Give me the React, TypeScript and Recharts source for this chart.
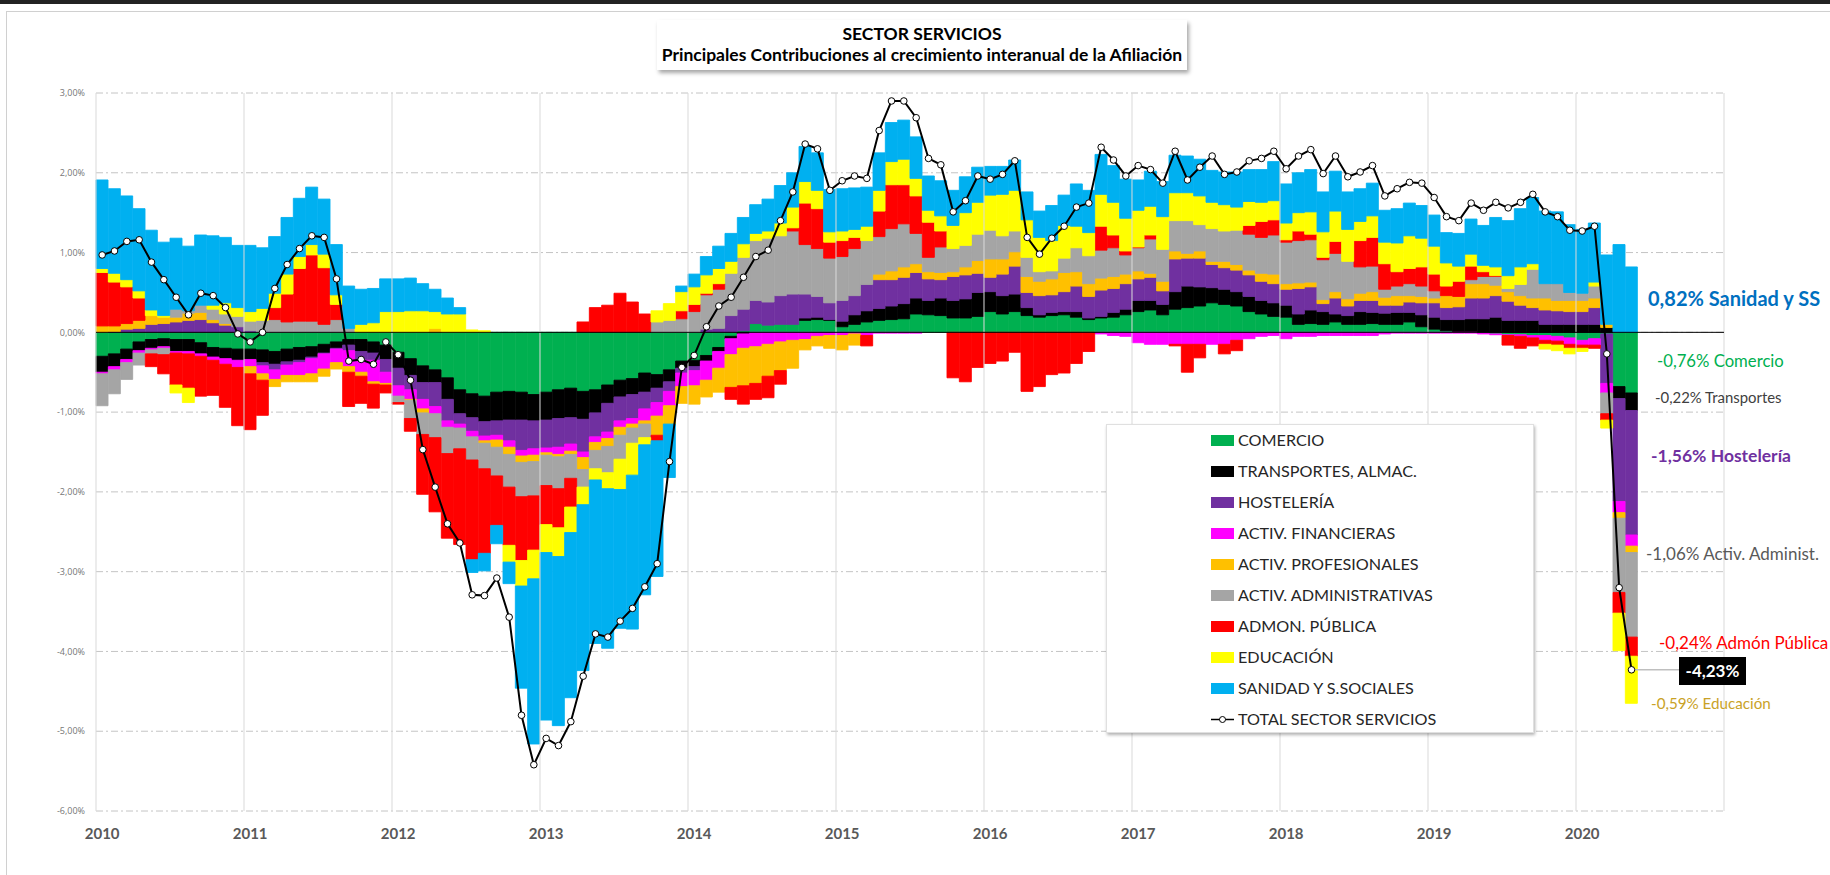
import React from "react";
import { ComposedChart, Bar, Line, XAxis, YAxis, CartesianGrid, ReferenceLine } from "recharts";

const years = ["2010", "2011", "2012", "2013", "2014", "2015", "2016", "2017", "2018", "2019", "2020"];

const comercio = [
  -0.30, -0.27, -0.21, -0.12, -0.09, -0.08, -0.09, -0.09, -0.13, -0.19, -0.20, -0.21,
  -0.21, -0.22, -0.24, -0.21, -0.19, -0.18, -0.15, -0.12, -0.09, -0.09, -0.12, -0.16,
  -0.25, -0.33, -0.42, -0.47, -0.57, -0.72, -0.77, -0.80, -0.75, -0.74, -0.75, -0.78,
  -0.75, -0.72, -0.70, -0.74, -0.72, -0.66, -0.60, -0.58, -0.51, -0.53, -0.47, -0.36,
  -0.35, -0.29, -0.19, -0.05, 0.02, 0.11, 0.09, 0.10, 0.10, 0.15, 0.16, 0.15,
  0.07, 0.10, 0.13, 0.15, 0.16, 0.17, 0.23, 0.22, 0.21, 0.18, 0.18, 0.20,
  0.26, 0.23, 0.26, 0.21, 0.19, 0.21, 0.22, 0.19, 0.16, 0.18, 0.19, 0.22,
  0.26, 0.28, 0.22, 0.29, 0.31, 0.33, 0.37, 0.35, 0.33, 0.26, 0.23, 0.20,
  0.19, 0.10, 0.11, 0.10, 0.13, 0.10, 0.10, 0.11, 0.10, 0.10, 0.13, 0.07,
  0.04, 0.02, 0.00, 0.00, -0.01, -0.02, -0.03, -0.03, -0.04, -0.04, -0.05, -0.07,
  -0.10, -0.08, -0.02, -0.68, -0.76,
];

const transportes = [
  -0.20, -0.16, -0.13, -0.11, -0.11, -0.10, -0.15, -0.15, -0.14, -0.12, -0.13, -0.14,
  -0.13, -0.16, -0.16, -0.16, -0.16, -0.13, -0.11, -0.08, -0.07, -0.15, -0.14, -0.18,
  -0.20, -0.21, -0.21, -0.16, -0.27, -0.30, -0.30, -0.32, -0.36, -0.36, -0.35, -0.33,
  -0.35, -0.36, -0.37, -0.35, -0.29, -0.23, -0.21, -0.20, -0.24, -0.17, -0.15, -0.09,
  -0.08, -0.07, -0.05, -0.03, -0.02, 0.00, 0.00, 0.00, 0.00, 0.03, 0.03, 0.01,
  0.07, 0.12, 0.14, 0.15, 0.17, 0.19, 0.20, 0.18, 0.22, 0.22, 0.24, 0.30,
  0.25, 0.23, 0.22, 0.10, 0.03, 0.04, 0.04, 0.07, 0.02, 0.02, 0.06, 0.07,
  0.14, 0.12, 0.13, 0.22, 0.27, 0.24, 0.19, 0.19, 0.18, 0.19, 0.17, 0.17,
  0.15, 0.13, 0.17, 0.16, 0.10, 0.11, 0.16, 0.14, 0.14, 0.15, 0.12, 0.15,
  0.15, 0.14, 0.16, 0.17, 0.17, 0.19, 0.15, 0.15, 0.15, 0.10, 0.10, 0.10,
  0.10, 0.10, 0.06, -0.15, -0.22,
];

const hosteleria = [
  0.00, 0.01, 0.04, 0.05, 0.10, 0.11, 0.13, 0.15, 0.16, 0.12, 0.09, 0.07,
  0.02, -0.04, -0.07, -0.04, -0.03, -0.02, -0.01, -0.01, -0.07, -0.11, -0.09, -0.16,
  -0.22, -0.18, -0.21, -0.30, -0.27, -0.13, -0.17, -0.18, -0.18, -0.26, -0.38, -0.35,
  -0.35, -0.36, -0.33, -0.41, -0.30, -0.36, -0.30, -0.30, -0.21, -0.18, -0.12, -0.06,
  -0.05, 0.04, 0.05, 0.21, 0.27, 0.29, 0.29, 0.36, 0.38, 0.30, 0.26, 0.21,
  0.26, 0.24, 0.33, 0.36, 0.33, 0.33, 0.32, 0.27, 0.23, 0.30, 0.30, 0.24,
  0.18, 0.27, 0.35, 0.19, 0.24, 0.22, 0.25, 0.32, 0.27, 0.33, 0.30, 0.32,
  0.27, 0.29, 0.17, 0.41, 0.35, 0.36, 0.29, 0.27, 0.27, 0.27, 0.24, 0.24,
  0.20, 0.32, 0.29, 0.10, 0.20, 0.12, 0.14, 0.15, 0.10, 0.09, 0.13, 0.15,
  0.18, 0.15, 0.16, 0.26, 0.26, 0.27, 0.24, 0.19, 0.16, 0.18, 0.17, 0.16,
  0.16, 0.21, -0.62, -1.29, -1.56,
];

const financieras = [
  -0.02, -0.04, -0.04, -0.03, -0.02, -0.02, -0.02, -0.03, -0.03, -0.04, -0.07, -0.09,
  -0.09, -0.10, -0.12, -0.13, -0.16, -0.19, -0.19, -0.17, -0.20, -0.15, -0.27, -0.14,
  -0.13, -0.12, -0.12, -0.09, -0.08, -0.05, -0.07, -0.06, -0.06, -0.08, -0.07, -0.08,
  -0.06, -0.09, -0.09, -0.07, -0.07, -0.08, -0.08, -0.07, -0.15, -0.17, -0.18, -0.17,
  -0.19, -0.24, -0.21, -0.20, -0.18, -0.18, -0.15, -0.12, -0.10, -0.09, -0.05, -0.04,
  -0.04, -0.02, -0.04, -0.01, -0.01, -0.01, -0.01, 0.00, 0.00, 0.00, 0.00, 0.00,
  0.00, 0.00, 0.00, 0.00, 0.00, 0.00, 0.00, 0.00, 0.00, -0.02, -0.04, -0.05,
  -0.13, -0.15, -0.15, -0.15, -0.15, -0.15, -0.15, -0.15, -0.10, -0.08, -0.05, -0.04,
  -0.08, -0.05, -0.05, -0.04, -0.04, -0.04, -0.04, -0.04, -0.02, -0.01, -0.01, -0.01,
  -0.01, -0.01, -0.01, -0.01, -0.01, -0.01, -0.01, -0.02, -0.03, -0.06, -0.06, -0.08,
  -0.06, -0.08, -0.12, -0.14, -0.14,
];

const profesionales = [
  0.08, 0.07, 0.07, 0.10, 0.11, 0.08, 0.06, 0.09, 0.09, 0.04, 0.02, 0.00,
  -0.09, -0.08, -0.09, -0.08, -0.08, -0.10, -0.09, -0.08, -0.07, -0.05, -0.03, -0.02,
  0.00, -0.01, -0.05, 0.05, 0.00, 0.00, 0.00, -0.03, -0.09, -0.09, -0.08, -0.08,
  -0.03, -0.03, -0.04, -0.15, -0.10, -0.10, -0.10, -0.05, -0.04, -0.24, -0.23, -0.21,
  -0.23, -0.21, -0.30, -0.41, -0.47, -0.46, -0.40, -0.36, -0.35, -0.13, -0.12, -0.16,
  -0.18, -0.14, 0.00, 0.07, 0.11, 0.13, 0.11, 0.09, 0.09, 0.06, 0.10, 0.16,
  0.23, 0.19, 0.18, 0.20, 0.18, 0.20, 0.24, 0.18, 0.16, 0.15, 0.15, 0.12,
  0.10, 0.05, 0.12, 0.10, 0.06, 0.09, 0.04, 0.08, 0.07, 0.06, 0.10, 0.12,
  0.07, 0.07, 0.06, 0.05, 0.08, 0.09, 0.09, 0.11, 0.10, 0.12, 0.08, 0.08,
  0.06, 0.15, 0.13, 0.18, 0.18, 0.13, 0.12, 0.12, 0.12, 0.15, 0.13, 0.14,
  0.14, 0.12, 0.04, -0.07, -0.08,
];

const administrativas = [
  -0.40, -0.30, -0.21, -0.15, -0.05, -0.08, 0.10, 0.03, 0.09, 0.13, 0.12, 0.13,
  0.12, 0.15, 0.16, 0.13, 0.14, 0.14, 0.10, 0.16, 0.05, 0.00, 0.00, 0.00,
  -0.08, -0.23, -0.27, -0.30, -0.33, -0.26, -0.29, -0.32, -0.36, -0.41, -0.43, -0.43,
  -0.38, -0.40, -0.30, -0.22, -0.23, -0.33, -0.30, -0.19, -0.17, 0.13, 0.15, 0.17,
  0.26, 0.43, 0.49, 0.53, 0.65, 0.75, 0.80, 0.75, 0.79, 0.62, 0.60, 0.56,
  0.55, 0.59, 0.55, 0.47, 0.53, 0.54, 0.38, 0.18, 0.32, 0.29, 0.27, 0.33,
  0.36, 0.29, 0.26, 0.24, 0.12, 0.10, 0.18, 0.30, 0.35, 0.35, 0.36, 0.24,
  0.29, 0.43, 0.40, 0.38, 0.41, 0.33, 0.41, 0.38, 0.43, 0.45, 0.45, 0.49,
  0.52, 0.53, 0.53, 0.50, 0.48, 0.47, 0.33, 0.32, 0.10, 0.12, 0.15, 0.13,
  0.09, 0.00, 0.00, 0.05, 0.09, 0.11, 0.04, 0.14, 0.36, 0.18, 0.21, 0.10,
  0.09, 0.15, -0.26, -0.93, -1.06,
];

const admonPublica = [
  0.67, 0.55, 0.46, 0.28, -0.16, -0.24, -0.40, -0.43, -0.50, -0.44, -0.54, -0.73,
  -0.70, -0.44, 0.15, 0.35, 0.66, 0.83, 0.71, 0.19, -0.43, -0.34, -0.30, -0.10,
  -0.02, -0.16, -0.75, -0.93, -1.06, -1.20, -1.25, -1.06, -0.62, -0.73, -0.80, -0.68,
  -0.49, -0.49, -0.36, 0.13, 0.31, 0.34, 0.49, 0.38, 0.23, -0.07, 0.00, 0.10,
  0.09, 0.02, 0.07, -0.15, -0.23, -0.20, -0.27, -0.17, 0.04, 0.52, 0.50, 0.20,
  0.20, 0.14, -0.13, 0.32, 0.55, 0.49, 0.47, 0.44, 0.20, -0.57, -0.62, -0.44,
  -0.39, -0.36, -0.25, -0.74, -0.68, -0.53, -0.51, -0.39, -0.24, 0.30, 0.16, 0.05,
  0.01, 0.05, 0.00, -0.02, -0.35, -0.17, 0.00, -0.12, -0.13, 0.11, 0.20, 0.19,
  0.03, 0.12, 0.07, 0.03, 0.15, 0.00, 0.33, 0.36, 0.32, 0.18, 0.19, 0.24,
  0.21, 0.12, 0.19, 0.17, 0.06, 0.01, -0.12, -0.15, -0.10, -0.05, -0.05, -0.05,
  -0.04, -0.04, -0.08, -0.26, -0.24,
];

const educacion = [
  0.05, 0.11, 0.09, 0.09, 0.07, 0.02, -0.10, -0.18, 0.00, 0.05, 0.14, 0.11,
  0.12, 0.15, 0.18, 0.25, 0.15, 0.13, 0.17, 0.12, 0.00, 0.10, 0.12, 0.26,
  0.26, 0.27, 0.27, 0.21, 0.23, 0.23, 0.03, 0.02, 0.00, -0.21, -0.32, -0.36,
  -0.35, -0.36, -0.32, -0.22, -0.14, -0.20, -0.38, -0.40, -0.09, 0.14, 0.21, 0.24,
  0.22, 0.23, 0.19, 0.15, 0.17, 0.09, 0.09, 0.16, 0.26, 0.27, 0.23, 0.13,
  0.12, 0.10, 0.18, 0.26, 0.29, 0.32, 0.22, 0.15, 0.19, 0.29, 0.41, 0.40,
  0.44, 0.52, 0.51, 0.47, 0.43, 0.38, 0.41, 0.27, 0.29, 0.40, 0.41, 0.41,
  0.46, 0.36, 0.41, 0.35, 0.35, 0.36, 0.33, 0.33, 0.29, 0.30, 0.24, 0.24,
  0.21, 0.23, 0.28, 0.32, 0.38, 0.40, 0.24, 0.27, 0.27, 0.36, 0.41, 0.36,
  0.35, 0.29, 0.19, 0.15, 0.08, 0.11, 0.16, 0.22, 0.07, -0.06, -0.07, -0.07,
  -0.04, 0.05, -0.10, -0.47, -0.59,
];

const sanidad = [
  1.11, 1.06, 1.05, 1.03, 1.00, 0.92, 0.89, 0.81, 0.88, 0.87, 0.82, 0.78,
  0.83, 0.76, 0.71, 0.71, 0.73, 0.72, 0.69, 0.63, 0.53, 0.44, 0.43, 0.41,
  0.41, 0.41, 0.34, 0.28, 0.20, 0.08, -0.16, -0.22, -0.23, -0.27, -1.28, -2.07,
  -2.10, -2.12, -2.07, -2.08, -2.05, -2.00, -1.74, -1.93, -1.88, -1.70, -0.67, 0.07,
  0.16, 0.23, 0.28, 0.35, 0.33, 0.36, 0.40, 0.47, 0.43, 0.44, 0.47, 0.53,
  0.53, 0.52, 0.49, 0.47, 0.49, 0.49, 0.52, 0.43, 0.44, 0.44, 0.45, 0.44,
  0.36, 0.35, 0.38, 0.35, 0.33, 0.44, 0.38, 0.53, 0.53, 0.50, 0.46, 0.49,
  0.38, 0.44, 0.44, 0.47, 0.46, 0.46, 0.40, 0.41, 0.44, 0.40, 0.41, 0.49,
  0.49, 0.50, 0.53, 0.50, 0.50, 0.47, 0.41, 0.41, 0.40, 0.43, 0.41, 0.41,
  0.39, 0.38, 0.41, 0.44, 0.50, 0.62, 0.69, 0.73, 0.83, 0.91, 0.90, 0.85,
  0.80, 0.74, 0.87, 1.10, 0.82,
];

const totalServicios = [
  0.97, 1.02, 1.14, 1.16, 0.88, 0.66, 0.44, 0.22, 0.49, 0.46, 0.31, -0.02,
  -0.12, 0.00, 0.55, 0.85, 1.05, 1.21, 1.19, 0.67, -0.36, -0.34, -0.40, -0.12,
  -0.28, -0.60, -1.47, -1.94, -2.40, -2.64, -3.29, -3.30, -3.08, -3.57, -4.80, -5.42,
  -5.09, -5.18, -4.88, -4.31, -3.78, -3.82, -3.62, -3.46, -3.19, -2.90, -1.62, -0.44,
  -0.29, 0.07, 0.33, 0.44, 0.69, 0.95, 1.03, 1.40, 1.76, 2.36, 2.30, 1.78,
  1.90, 1.96, 1.93, 2.53, 2.90, 2.90, 2.69, 2.18, 2.10, 1.51, 1.65, 1.96,
  1.92, 1.98, 2.15, 1.19, 0.98, 1.18, 1.33, 1.57, 1.62, 2.32, 2.16, 1.96,
  2.09, 2.04, 1.87, 2.27, 1.91, 2.07, 2.21, 1.98, 2.01, 2.15, 2.18, 2.27,
  2.05, 2.21, 2.29, 1.99, 2.21, 1.95, 2.01, 2.09, 1.71, 1.80, 1.88, 1.87,
  1.69, 1.45, 1.40, 1.62, 1.53, 1.63, 1.56, 1.63, 1.73, 1.51, 1.45, 1.28,
  1.27, 1.33, -0.27, -3.20, -4.23,
];

const yTicks = [-6, -5, -4, -3, -2, -1, 0, 1, 2, 3];

const series = [
  { key: "comercio", name: "COMERCIO", color: "#00B050", values: comercio },
  { key: "transportes", name: "TRANSPORTES, ALMAC.", color: "#000000", values: transportes },
  { key: "hosteleria", name: "HOSTELERÍA", color: "#7030A0", values: hosteleria },
  { key: "financieras", name: "ACTIV. FINANCIERAS", color: "#FF00FF", values: financieras },
  { key: "profesionales", name: "ACTIV. PROFESIONALES", color: "#FFC000", values: profesionales },
  { key: "administrativas", name: "ACTIV. ADMINISTRATIVAS", color: "#A5A5A5", values: administrativas },
  { key: "admon", name: "ADMON. PÚBLICA", color: "#FF0000", values: admonPublica },
  { key: "educacion", name: "EDUCACIÓN", color: "#FFFF00", values: educacion },
  { key: "sanidad", name: "SANIDAD Y S.SOCIALES", color: "#00B0F0", values: sanidad },
];

const nMonths = years.length * 12;
const januaries = years.map((_, k) => k * 12);
const last = totalServicios.length - 1;

const data = Array.from({ length: nMonths }, (_, i) => {
  const row: Record<string, number> = { m: i };
  series.forEach((s) => {
    if (i < s.values.length) row[s.key] = s.values[i];
  });
  if (i < totalServicios.length) row.total = totalServicios[i];
  return row;
});

const pct = (v: number) => `${v.toFixed(2).replace(".", ",")}%`;

const FONT = "Lato, 'Open Sans', sans-serif";

function YearTick({ x, y, payload }: any) {
  return (
    <text x={x} y={y + 20} textAnchor="middle" fontSize={15} fontWeight={700} fill="#595959" fontFamily={FONT}>
      {years[payload.value / 12]}
    </text>
  );
}

// annotations at the right end of the chart
const endLabels = [
  { text: `${pct(sanidad[last])} Sanidad y SS`, color: "#0070C0", top: 298, left: 1648, size: 20, bold: true },
  { text: `${pct(comercio[last])} Comercio`, color: "#00B050", top: 361, left: 1657, size: 16.7, bold: false },
  { text: `${pct(transportes[last])} Transportes`, color: "#404040", top: 397, left: 1655, size: 14.9, bold: false },
  { text: `${pct(hosteleria[last])} Hostelería`, color: "#7030A0", top: 455, left: 1651, size: 17.5, bold: true },
  { text: `${pct(administrativas[last])} Activ. Administ.`, color: "#595959", top: 553, left: 1646, size: 17, bold: false },
  { text: `${pct(admonPublica[last])} Admón Pública`, color: "#FF0000", top: 642, left: 1659, size: 17, bold: false },
  { text: `${pct(educacion[last])} Educación`, color: "#C9A227", top: 703, left: 1651, size: 15.2, bold: false },
];

export default function App() {
  return (
    <div style={{ position: "absolute", left: 0, top: 0, width: 1830, height: 875, background: "#fff", overflow: "hidden", fontFamily: FONT }}>
      <div style={{ position: "absolute", left: 0, top: 0, width: 1830, height: 4, background: "#222" }} />
      <div style={{ position: "absolute", left: 6, top: 11, width: 1830, height: 870, borderTop: "1px solid #d0d0d0", borderLeft: "1px solid #d0d0d0" }} />

      <ComposedChart
        width={1830}
        height={875}
        data={data}
        margin={{ top: 93, right: 106, bottom: 34, left: 36 }}
        stackOffset="sign"
        barCategoryGap={0}
        barGap={0}
      >
        <CartesianGrid vertical={false} stroke="#c4c4c4" strokeDasharray="7 3 2 3" />
        {januaries.map((j) => (
          <ReferenceLine key={j} x={j} position="start" stroke="#d9d9d9" strokeWidth={1} />
        ))}
        <ReferenceLine x={nMonths - 1} position="end" stroke="#d9d9d9" strokeWidth={1} />
        <XAxis
          dataKey="m"
          type="category"
          ticks={januaries}
          interval={0}
          tick={<YearTick />}
          axisLine={false}
          tickLine={false}
          height={30}
        />
        <YAxis
          domain={[-6, 3]}
          ticks={yTicks}
          tickFormatter={pct}
          axisLine={false}
          tickLine={false}
          width={60}
          tick={{ fontSize: 9, fill: "#767676", fontFamily: "'Open Sans', sans-serif", dx: -3 }}
        />
        {series.map((s) => (
          <Bar
            key={s.key}
            dataKey={s.key}
            name={s.name}
            stackId="s"
            fill={s.color}
            stroke={s.color}
            strokeWidth={0.9}
            isAnimationActive={false}
          />
        ))}
        <ReferenceLine y={0} stroke="#000" strokeWidth={1} />
        <ReferenceLine
          segment={[{ x: last, y: totalServicios[last] }, { x: last + 4, y: totalServicios[last] }]}
          stroke="#bfbfbf"
          strokeWidth={1.5}
        />
        <Line
          dataKey="total"
          name="TOTAL SECTOR SERVICIOS"
          type="linear"
          stroke="#000"
          strokeWidth={2}
          dot={{ r: 3.3, fill: "#fff", stroke: "#000", strokeWidth: 1 }}
          connectNulls={false}
          isAnimationActive={false}
        />
      </ComposedChart>

      {/* title */}
      <div
        style={{
          position: "absolute", left: 657, top: 20, width: 530, height: 50, background: "#fff",
          boxShadow: "2px 3px 4px rgba(0,0,0,0.35)", textAlign: "center", fontWeight: 700,
          fontSize: 17.5, lineHeight: "21px", paddingTop: 3, boxSizing: "border-box", color: "#000",
          whiteSpace: "nowrap",
        }}
      >
        <div>SECTOR SERVICIOS</div>
        <div>Principales Contribuciones al crecimiento interanual de la Afiliación</div>
      </div>

      {/* legend */}
      <div
        style={{
          position: "absolute", left: 1106, top: 424, width: 428, height: 309, background: "#fff",
          border: "1px solid #e0e0e0", boxShadow: "1px 2px 3px rgba(0,0,0,0.3)", boxSizing: "border-box",
        }}
      >
        {series.map((s, i) => (
          <div key={s.key} style={{ position: "absolute", left: 104, top: 8 + 31 * i, height: 14, display: "flex", alignItems: "center" }}>
            <div style={{ width: 23, height: 11, background: s.color, marginRight: 4 }} />
            <span style={{ fontSize: 16.2, color: "#262626", lineHeight: "14px", whiteSpace: "nowrap" }}>{s.name}</span>
          </div>
        ))}
        <div style={{ position: "absolute", left: 104, top: 8 + 31 * 9, height: 14, display: "flex", alignItems: "center" }}>
          <svg width={23} height={11} style={{ marginRight: 4 }}>
            <line x1={0} y1={5.5} x2={23} y2={5.5} stroke="#000" strokeWidth={1.5} />
            <circle cx={11.5} cy={5.5} r={3} fill="#fff" stroke="#000" strokeWidth={1} />
          </svg>
          <span style={{ fontSize: 16.2, color: "#262626", lineHeight: "14px", whiteSpace: "nowrap" }}>TOTAL SECTOR SERVICIOS</span>
        </div>
      </div>

      {/* end labels */}
      {endLabels.map((l) => (
        <div
          key={l.text}
          style={{
            position: "absolute", left: l.left, top: l.top, transform: "translateY(-50%)",
            color: l.color, fontSize: l.size, fontWeight: l.bold ? 700 : 400, whiteSpace: "nowrap",
          }}
        >
          {l.text}
        </div>
      ))}
      <div
        style={{
          position: "absolute", left: 1679, top: 657, width: 67, height: 28, background: "#000", color: "#fff",
          fontWeight: 700, fontSize: 17, lineHeight: "28px", textAlign: "center",
        }}
      >
        {pct(totalServicios[last])}
      </div>
    </div>
  );
}
